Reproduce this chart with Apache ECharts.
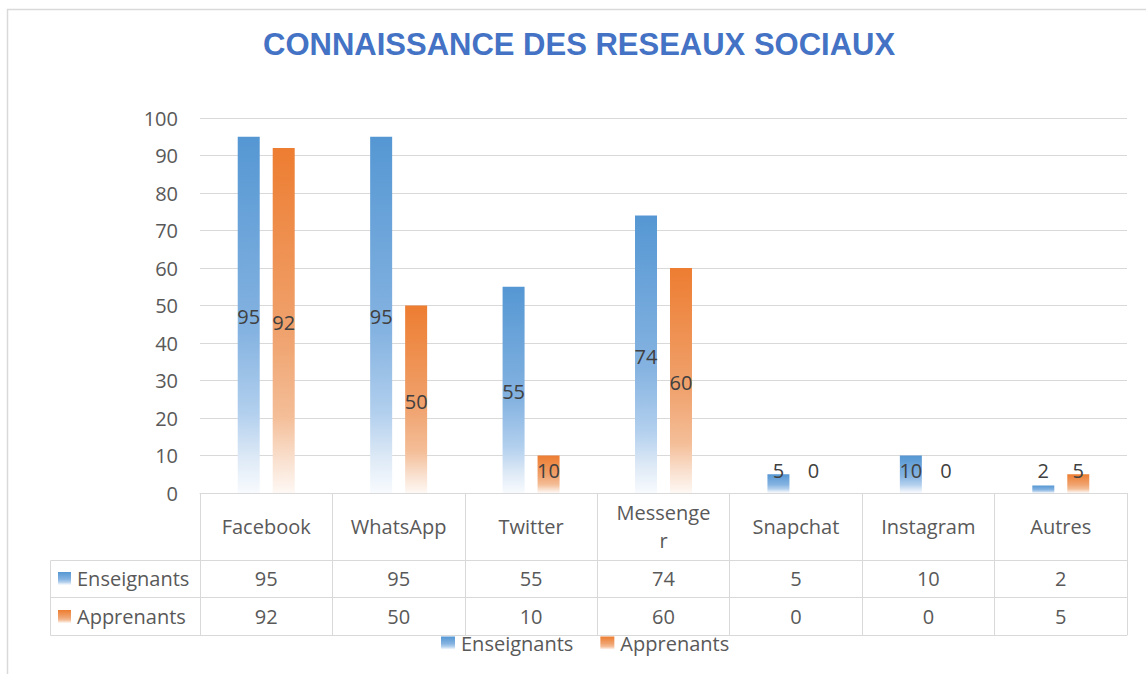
<!DOCTYPE html>
<html>
<head>
<meta charset="utf-8">
<script src="https://cdn.jsdelivr.net/npm/echarts@6/dist/echarts.min.js"></script>
<style>
html,body{margin:0;padding:0;background:#fff;}
#chart{width:1146px;height:674px;}
</style>
</head>
<body>
<div id="chart"></div>
<script>
const title = 'CONNAISSANCE DES RESEAUX SOCIAUX';
const categories = ['Facebook', 'WhatsApp', 'Twitter', 'Messenger', 'Snapchat', 'Instagram', 'Autres'];
const headerLabels = ['Facebook', 'WhatsApp', 'Twitter', 'Messenge\nr', 'Snapchat', 'Instagram', 'Autres'];
const seriesNames = ['Enseignants', 'Apprenants'];
const enseignants = [95, 95, 55, 74, 5, 10, 2];
const apprenants = [92, 50, 10, 60, 0, 0, 5];
const yTicks = [0, 10, 20, 30, 40, 50, 60, 70, 80, 90, 100];

const FONT = 'Open Sans';
const TXT = '#595959';
const LINE = '#d9d9d9';

function grad(stops) {
  return new echarts.graphic.LinearGradient(0, 0, 0, 1, stops.map(s => ({offset: s[0], color: s[1]})));
}
const blueGrad = () => grad([[0, '#5597D3'], [0.55, '#85B3E1'], [0.78, '#B3D0EE'], [0.9, '#DDE9F6'], [1, '#F8FBFE']]);
const orangeGrad = () => grad([[0, '#ED7D31'], [0.55, '#F0A36F'], [0.78, '#F4BE98'], [0.9, '#F9DFCD'], [1, '#FEF8F4']]);

function barData(vals) {
  return vals.map(v => {
    if (v <= 10) {
      return {value: v, label: {position: 'insideBottom', distance: 15}};
    }
    return v;
  });
}

const chart = echarts.init(document.getElementById('chart'), null, {renderer: 'svg'});

function tableAxis(offset, tickLen, margin, formatter, showLabel, lh) {
  return {
    type: 'category',
    data: categories,
    position: 'bottom',
    gridIndex: 0,
    offset: offset,
    axisLine: {show: true, lineStyle: {color: LINE, width: 1}},
    axisTick: {show: tickLen > 0, length: tickLen, interval: 0, lineStyle: {color: LINE, width: 1}},
    axisLabel: {
      show: showLabel, interval: 0, margin: margin, verticalAlign: 'middle',
      fontFamily: FONT, fontSize: 20, color: TXT, lineHeight: lh,
      formatter: formatter
    },
    splitLine: {show: false}
  };
}

const option = {
  animation: false,
  title: {
    text: title, left: 263, top: 29, padding: 0,
    textStyle: {fontFamily: 'Liberation Sans', fontWeight: 'bold', fontSize: 31, color: '#4472C4'}
  },
  legend: {
    data: seriesNames, left: 441, top: 633, itemWidth: 14, itemHeight: 13, itemGap: 27,
    icon: 'rect', padding: 0,
    textStyle: {fontFamily: FONT, fontSize: 20, color: TXT, lineHeight: 18, padding: [0, 0, 0, 1]}
  },
  grid: {left: 200, right: 19, top: 118, bottom: 181, containLabel: false},
  xAxis: [
    tableAxis(0, 67, 33, (v, i) => headerLabels[i], true, 28),
    tableAxis(67, 37, 18, (v, i) => String(enseignants[i]), true, 20),
    tableAxis(104, 38, 19, (v, i) => String(apprenants[i]), true, 20),
    tableAxis(142, 0, 0, () => '', false, 20)
  ],
  yAxis: {
    type: 'value', min: 0, max: 100, interval: 10,
    axisLine: {show: false}, axisTick: {show: false},
    axisLabel: {margin: 22, fontFamily: FONT, fontSize: 20, color: TXT,
      formatter: v => yTicks.includes(v) ? String(v) : ''},
    splitLine: {lineStyle: {color: LINE, width: 1}}
  },
  series: [
    {
      name: seriesNames[0], type: 'bar', xAxisIndex: 0, data: barData(enseignants),
      barWidth: 22, barGap: '59%',
      itemStyle: {color: blueGrad()},
      label: {show: true, position: 'inside', fontFamily: FONT, fontSize: 20, color: '#404040', lineHeight: 20, offset: [0, 2]}
    },
    {
      name: seriesNames[1], type: 'bar', xAxisIndex: 0, data: barData(apprenants),
      barWidth: 22, barGap: '59%',
      itemStyle: {color: orangeGrad()},
      label: {show: true, position: 'inside', fontFamily: FONT, fontSize: 20, color: '#404040', lineHeight: 20, offset: [0, 2]}
    }
  ],
  graphic: [
    {type: 'rect', silent: true, shape: {x: 7.5, y: 9.5, width: 1200, height: 700}, style: {fill: 'none', stroke: LINE, lineWidth: 1.5}},
    {type: 'polyline', silent: true, shape: {points: [[200, 560.5], [50.5, 560.5], [50.5, 635.5], [200, 635.5]]}, style: {fill: 'none', stroke: LINE, lineWidth: 1}},
    {type: 'line', silent: true, shape: {x1: 50.5, y1: 597.5, x2: 200, y2: 597.5}, style: {stroke: LINE, lineWidth: 1}},
    {type: 'rect', silent: true, shape: {x: 58, y: 572, width: 13, height: 13}, style: {fill: blueGrad()}},
    {type: 'rect', silent: true, shape: {x: 58, y: 610, width: 13, height: 13}, style: {fill: orangeGrad()}},
    {type: 'text', silent: true, x: 77, y: 578, style: {text: seriesNames[0], fontFamily: FONT, fontSize: 20, fill: TXT, verticalAlign: 'middle', align: 'left'}},
    {type: 'text', silent: true, x: 77, y: 616, style: {text: seriesNames[1], fontFamily: FONT, fontSize: 20, fill: TXT, verticalAlign: 'middle', align: 'left'}}
  ]
};
chart.setOption(option);
</script>
</body>
</html>
